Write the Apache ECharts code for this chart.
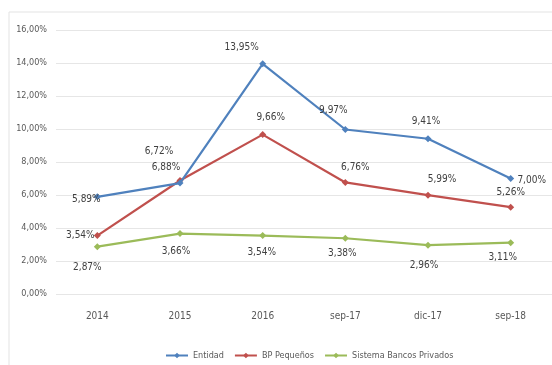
<!DOCTYPE html>
<html>
<head>
<meta charset="utf-8">
<script src="https://cdn.jsdelivr.net/npm/echarts@6/dist/echarts.min.js"></script>
<style>
  html, body { margin: 0; padding: 0; background: #fff; }
  #chart { width: 552px; height: 365px; }
</style>
</head>
<body>
<div id="chart"></div>
<script>
// Periods on the horizontal axis
const categories = ['2014', '2015', '2016', 'sep-17', 'dic-17', 'sep-18'];

// Percentages per series
const entidad = [5.89, 6.72, 13.95, 9.97, 9.41, 7.00];
const bpPequenos = [3.54, 6.88, 9.66, 6.76, 5.99, 5.26];
const sistemaBancos = [2.87, 3.66, 3.54, 3.38, 2.96, 3.11];

const seriesNames = ['Entidad', 'BP Pequeños', 'Sistema Bancos Privados'];

// Y axis ticks
const yTicks = [0, 2, 4, 6, 8, 10, 12, 14, 16];

// Label placement (offset from the point to the label centre)
const labelOffsets = [
  [[-11, 3], [-21, -32], [-21, -16], [-12, -19], [-2, -17], [21, 2]],
  [[-17, 0], [-14, -13], [8, -17], [10, -15], [14, -16], [0, -15]],
  [[-10, 21], [-4, 18], [-1, 17], [-3, 15], [-4, 20], [-8, 15]]
];

const colors = ['#4F81BD', '#C0504D', '#9BBB59'];
const FONT = '"Liberation Sans Narrow", "DejaVu Sans Condensed", "Liberation Sans", sans-serif';

function fmt(v) {
  return v.toFixed(2).replace('.', ',') + '%';
}

function buildSeries(name, values, idx) {
  return {
    name: name,
    type: 'line',
    data: values.map((v, i) => ({
      value: v,
      label: { offset: labelOffsets[idx][i] }
    })),
    symbol: 'diamond',
    symbolSize: 7,
    lineStyle: { width: 2.2, color: colors[idx] },
    itemStyle: { color: colors[idx] },
    label: {
      show: true,
      position: 'inside',
      formatter: p => fmt(p.value),
      fontFamily: FONT,
      fontSize: 10,
      color: '#404040'
    },
    emphasis: { disabled: true },
    animation: false,
    z: 3 - idx
  };
}

const chart = echarts.init(document.getElementById('chart'), null, { renderer: 'canvas' });

chart.setOption({
  backgroundColor: '#ffffff',
  animation: false,
  color: colors,
  graphic: [{
    type: 'rect',
    shape: { x: 9, y: 12, width: 600, height: 400 },
    style: { fill: 'none', stroke: '#e3e3e3', lineWidth: 1 },
    z: -1
  }],
  grid: { left: 56, right: -3, top: 30, bottom: 71 },
  xAxis: {
    type: 'category',
    data: categories,
    boundaryGap: true,
    axisLine: { show: false },
    axisTick: { show: false },
    axisLabel: {
      margin: 17,
      fontFamily: FONT,
      fontSize: 10,
      color: '#595959'
    }
  },
  yAxis: {
    type: 'value',
    min: yTicks[0],
    max: yTicks[yTicks.length - 1],
    interval: 2,
    axisLine: { show: false },
    axisTick: { show: false },
    splitLine: { lineStyle: { color: '#e6e6e6', width: 1 } },
    axisLabel: {
      margin: 9,
      fontFamily: FONT,
      fontSize: 9,
      color: '#595959',
      formatter: v => v.toFixed(2).replace('.', ',') + '%'
    }
  },
  legend: {
    data: seriesNames,
    left: 160,
    top: 346,
    itemWidth: 22,
    itemHeight: 7,
    itemGap: 10,
    textStyle: { fontFamily: FONT, fontSize: 9, color: '#595959' }
  },
  series: [
    buildSeries(seriesNames[0], entidad, 0),
    buildSeries(seriesNames[1], bpPequenos, 1),
    buildSeries(seriesNames[2], sistemaBancos, 2)
  ]
});
</script>
</body>
</html>
